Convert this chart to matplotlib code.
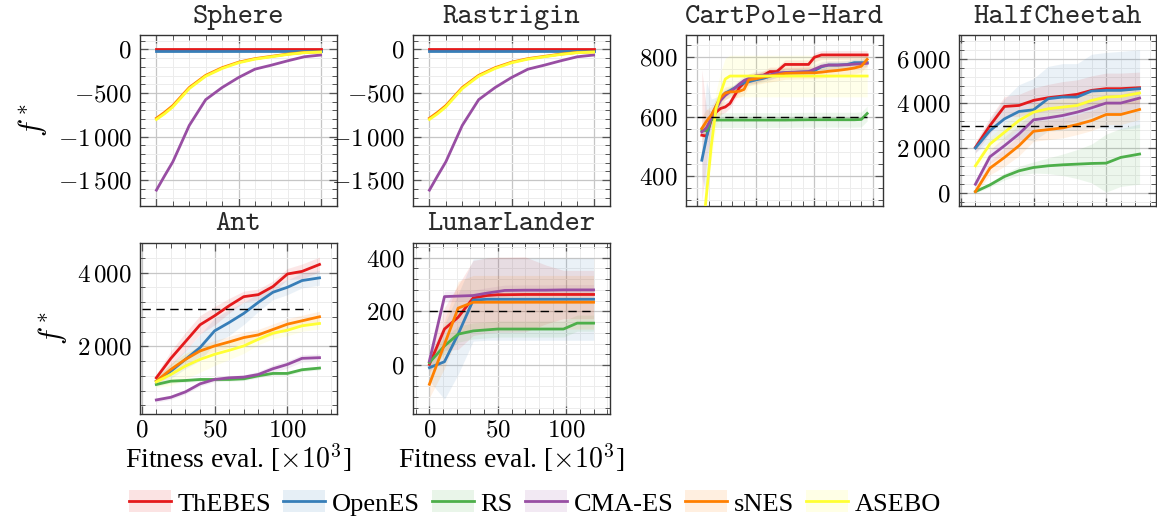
import os
import numpy as np
import matplotlib
matplotlib.use("Agg")
import matplotlib.pyplot as plt
from matplotlib.ticker import MultipleLocator, FuncFormatter, NullFormatter
from matplotlib.patches import Patch
from matplotlib.lines import Line2D
from matplotlib.legend_handler import HandlerTuple
from matplotlib.font_manager import FontProperties

plt.rcParams['mathtext.fontset'] = 'cm'
plt.rcParams['font.family'] = ['Liberation Serif', 'DejaVu Serif']

methods = ["ThEBES", "OpenES", "RS", "CMA-ES", "sNES", "ASEBO"]
colors = ["#e41a1c", "#377eb8", "#4daf4a", "#984ea3", "#ff7f00", "#ffff33"]

## Sphere / Rastrigin (look the same in the figure)
sphere_x = [0, 5, 10, 20, 30, 40, 50, 60, 70, 80, 90, 100]
sphere_mean = {
    "ThEBES": [4, 4, 4, 4, 4, 4, 4, 4, 4, 4, 4, 4],
    "OpenES": [-20, -20, -20, -20, -20, -20, -20, -20, -20, -20, -20, -20],
    "CMA-ES": [-1615, -1450, -1290, -873, -577, -438, -323, -227, -181, -131, -85, -65],
    "sNES": [-790, -722, -645, -438, -298, -210, -147, -106, -80, -54, -35, -28],
    "ASEBO": [-804, -738, -660, -450, -308, -219, -154, -112, -85, -58, -38, -31],
}
rastrigin_x = sphere_x
rastrigin_mean = sphere_mean

## CartPole-Hard
cart_x = [4, 8, 12, 16, 20, 24, 28, 32, 36, 40, 44, 50, 56, 62, 68, 75, 95, 100, 106, 112, 120, 128, 134, 140, 145]
cart_mean = {
    "ThEBES": [538, 535, 590, 615, 628, 633, 645, 672, 698, 714, 726, 728, 738, 752, 752, 776, 776, 800, 808, 808, 808, 808, 808, 808, 808],
    "OpenES": [454, 530, 600, 635, 665, 680, 688, 697, 708, 714, 718, 724, 729, 736, 745, 748, 751, 755, 768, 774, 774, 776, 782, 782, 782],
    "RS": [555, 553, 592, 589, 589, 589, 589, 589, 589, 589, 589, 589, 589, 589, 589, 589, 590, 590, 590, 590, 590, 590, 590, 591, 611],
    "CMA-ES": [549, 563, 595, 625, 655, 672, 684, 695, 710, 722, 729, 738, 740, 741, 747, 749, 752, 760, 770, 774, 774, 775, 777, 778, 780],
    "sNES": [561, 585, 605, 635, 665, 680, 684, 684, 686, 692, 724, 728, 733, 737, 741, 746, 748, 748, 750, 753, 756, 760, 764, 770, 793],
    "ASEBO": [180, 340, 500, 625, 680, 727, 737, 737, 737, 737, 737, 737, 737, 737, 737, 737, 737, 737, 737, 737, 737, 737, 737, 737, 737],
}
cart_std = {
    "ThEBES": [220, 90, 30, 25, 20, 18, 15, 15, 15, 15, 15, 15, 15, 15, 15, 15, 15, 15, 15, 15, 15, 15, 15, 15, 15],
    "OpenES": [60, 190, 60, 30, 15, 12, 12, 12, 12, 12, 12, 12, 12, 12, 12, 12, 12, 12, 12, 12, 12, 12, 12, 12, 12],
    "RS": [20, 25, 25, 25, 25, 25, 25, 25, 25, 25, 25, 25, 25, 25, 25, 25, 25, 25, 25, 25, 25, 25, 25, 25, 25],
    "CMA-ES": [15, 15, 15, 15, 15, 15, 15, 15, 15, 15, 15, 15, 15, 15, 15, 15, 15, 15, 15, 15, 15, 15, 15, 15, 15],
    "sNES": [40, 40, 30, 25, 20, 20, 20, 20, 20, 20, 20, 20, 20, 20, 20, 20, 20, 20, 20, 20, 20, 20, 20, 20, 20],
    "ASEBO": [20, 30, 50, 60, 70, 70, 70, 70, 70, 70, 70, 70, 70, 70, 70, 70, 70, 70, 70, 70, 70, 70, 70, 70, 70],
}

## HalfCheetah
cheetah_x = [10, 20, 30, 40, 50, 60, 70, 80, 90, 100, 110, 123]
cheetah_mean = {
    "ThEBES": [2030, 3008, 3865, 3910, 4136, 4256, 4331, 4407, 4587, 4662, 4662, 4707],
    "OpenES": [2000, 2782, 3309, 3640, 3715, 4211, 4286, 4286, 4557, 4587, 4587, 4662],
    "RS": [45, 346, 722, 978, 1128, 1203, 1248, 1278, 1308, 1323, 1579, 1730],
    "CMA-ES": [376, 1609, 2105, 2632, 3264, 3354, 3459, 3610, 3805, 4016, 4016, 4241],
    "sNES": [45, 1098, 1579, 2105, 2752, 2827, 2903, 3053, 3234, 3504, 3504, 3730],
    "ASEBO": [1203, 2180, 2707, 3234, 3610, 3760, 3835, 3910, 4136, 4286, 4316, 4467],
}
cheetah_std = {
    "ThEBES": [250, 350, 450, 500, 550, 600, 650, 650, 650, 700, 700, 700],
    "OpenES": [200, 500, 900, 1200, 1400, 1450, 1500, 1500, 1650, 1700, 1750, 1750],
    "RS": [60, 100, 150, 200, 250, 350, 480, 650, 870, 1300, 1300, 1350],
    "CMA-ES": [150, 300, 400, 400, 400, 400, 400, 400, 400, 400, 400, 400],
    "sNES": [100, 300, 400, 450, 450, 450, 450, 450, 450, 450, 450, 450],
    "ASEBO": [200, 300, 350, 350, 350, 350, 350, 350, 350, 350, 350, 350],
}

## Ant
ant_x = [10, 20, 30, 40, 50, 60, 70, 80, 90, 100, 110, 122]
ant_mean = {
    "ThEBES": [1145, 1673, 2127, 2582, 2827, 3100, 3345, 3400, 3618, 3960, 4030, 4218],
    "OpenES": [1055, 1327, 1645, 1964, 2418, 2645, 2891, 3191, 3464, 3600, 3782, 3855],
    "RS": [964, 1055, 1073, 1100, 1100, 1100, 1118, 1200, 1264, 1264, 1364, 1409],
    "CMA-ES": [545, 618, 764, 982, 1100, 1145, 1164, 1236, 1391, 1509, 1673, 1691],
    "sNES": [1055, 1373, 1645, 1873, 2009, 2118, 2236, 2309, 2455, 2600, 2691, 2800],
    "ASEBO": [1036, 1236, 1464, 1645, 1782, 1891, 2009, 2191, 2355, 2436, 2555, 2618],
}
ant_std = {
    "ThEBES": [100, 200, 250, 250, 250, 200, 150, 150, 150, 150, 200, 200],
    "OpenES": [100, 200, 250, 350, 350, 350, 300, 250, 200, 200, 200, 200],
    "RS": [50, 50, 50, 50, 50, 50, 50, 50, 50, 50, 50, 50],
    "CMA-ES": [60, 60, 60, 60, 60, 60, 60, 80, 100, 100, 100, 100],
    "sNES": [100, 150, 150, 150, 150, 150, 150, 150, 150, 150, 150, 150],
    "ASEBO": [150, 300, 350, 350, 300, 250, 200, 150, 150, 150, 150, 150],
}

## LunarLander
lunar_x = [0, 11, 21, 32, 42, 50, 55, 70, 85, 98, 108, 120]
lunar_mean = {
    "ThEBES": [2, 134, 178, 250, 259, 262, 262, 263, 263, 263, 263, 263],
    "OpenES": [-10, 12, 115, 242, 245, 245, 245, 245, 245, 245, 245, 245],
    "RS": [9, 71, 115, 127, 131, 134, 134, 134, 134, 134, 156, 156],
    "CMA-ES": [15, 255, 257, 259, 268, 274, 278, 279, 279, 280, 280, 280],
    "sNES": [-72, 77, 212, 234, 234, 234, 234, 234, 234, 234, 234, 234],
}
lunar_std = {
    "ThEBES": [30, 80, 120, 140, 140, 140, 140, 140, 110, 90, 90, 90],
    "OpenES": [50, 140, 150, 153, 153, 153, 153, 153, 153, 153, 153, 153],
    "RS": [30, 30, 30, 30, 30, 30, 30, 30, 30, 30, 30, 30],
    "CMA-ES": [20, 20, 20, 20, 20, 20, 20, 20, 20, 20, 20, 20],
    "sNES": [50, 90, 100, 100, 100, 100, 100, 100, 100, 100, 100, 100],
}

## thresholds (dashed lines)
cart_thr = ([0, 145], 600)
cheetah_thr = ([0, 115], 3000)
ant_thr = ([0, 115], 3000)
lunar_thr = ([0, 120], 200)

W, H = 1157, 519
fig = plt.figure(figsize=(W/100, H/100), dpi=100)

# computer modern typewriter for the titles (shipped with matplotlib)
tt_font = FontProperties(fname=os.path.join(matplotlib.get_data_path(), "fonts", "ttf", "cmtt10.ttf"), size=21)

def px_axes(left, top, w, h):
    return fig.add_axes([left/W, 1-(top+h)/H, w/W, h/H])

def tick_fmt(v, pos):
    v = int(round(v))
    s = f"{abs(v):,}".replace(",", r"\,")
    return "$" + ("-" if v < 0 else "") + s + "$"

def style(ax, xlim, ylim, xmaj, xmin, ymaj, ymin, xlabels):
    ax.set_xlim(*xlim)
    ax.set_ylim(*ylim)
    ax.xaxis.set_major_locator(MultipleLocator(xmaj))
    ax.xaxis.set_minor_locator(MultipleLocator(xmin))
    ax.yaxis.set_major_locator(MultipleLocator(ymaj))
    ax.yaxis.set_minor_locator(MultipleLocator(ymin))
    ax.yaxis.set_major_formatter(FuncFormatter(tick_fmt))
    if xlabels:
        ax.xaxis.set_major_formatter(FuncFormatter(tick_fmt))
    else:
        ax.xaxis.set_major_formatter(NullFormatter())
    ax.grid(which='major', color='#c6c6c6', lw=0.9)
    ax.grid(which='minor', color='#ececec', lw=0.7)
    ax.set_axisbelow(True)
    ax.tick_params(which='both', direction='in', top=True, right=True, color='#555555', labelsize=18)
    ax.tick_params(axis='y', pad=6)
    ax.tick_params(axis='x', pad=4)
    ax.tick_params(which='major', length=6, width=0.9)
    ax.tick_params(which='minor', length=3.5, width=0.7)
    for s in ax.spines.values():
        s.set_color('#333333')
        s.set_linewidth(1.0)

def draw(ax, x, mean, std=None):
    for m, c in zip(methods, colors):
        if m not in mean:
            continue
        y = np.array(mean[m], dtype=float)
        if std is not None:
            sd = np.array(std[m], dtype=float)
            ax.fill_between(x, y-sd, y+sd, color=c, alpha=0.1, lw=0)
        ax.plot(x, y, color=c, lw=2.0, solid_joinstyle='round', zorder=3)

def thr(ax, t):
    ax.plot(t[0], [t[1], t[1]], color='black', lw=1.0, ls=(0, (6, 4)), zorder=4)

def title(ax, s):
    ax.set_title(s, fontproperties=tt_font, pad=9, color='#2a2a2a')

ax0 = px_axes(140, 35, 197, 171)
draw(ax0, sphere_x, sphere_mean)
style(ax0, (-10, 110), (-1797, 165), 50, 10, 500, 100, False)
title(ax0, "Sphere")
ax0.set_ylabel(r"$f^*$", fontsize=22, labelpad=6)

ax1 = px_axes(413, 35, 197, 171)
draw(ax1, rastrigin_x, rastrigin_mean)
style(ax1, (-10, 110), (-1797, 165), 50, 10, 500, 100, False)
title(ax1, "Rastrigin")

ax2 = px_axes(686, 35, 197, 171)
draw(ax2, cart_x, cart_mean, cart_std)
thr(ax2, cart_thr)
style(ax2, (-9.5, 158.5), (300, 875), 50, 10, 200, 40, False)
title(ax2, "CartPole-Hard")

ax3 = px_axes(959, 35, 197, 171)
draw(ax3, cheetah_x, cheetah_mean, cheetah_std)
thr(ax3, cheetah_thr)
style(ax3, (-1.3, 134.3), (-600, 7070), 50, 10, 2000, 400, False)
title(ax3, "HalfCheetah")

ax4 = px_axes(140, 243, 197, 171)
draw(ax4, ant_x, ant_mean, ant_std)
thr(ax4, ant_thr)
style(ax4, (-1.2, 134), (164, 4800), 50, 10, 2000, 400, True)
title(ax4, "Ant")
ax4.set_ylabel(r"$f^*$", fontsize=22, labelpad=6)
ax4.set_xlabel(r"Fitness eval. [$\times10^3$]", fontsize=20, labelpad=0)

ax5 = px_axes(413, 243, 197, 171)
draw(ax5, lunar_x, lunar_mean, lunar_std)
thr(ax5, lunar_thr)
style(ax5, (-12, 132), (-183, 455), 50, 10, 200, 40, True)
title(ax5, "LunarLander")
ax5.set_xlabel(r"Fitness eval. [$\times10^3$]", fontsize=20, labelpad=0)

handles = [(Patch(facecolor=c, alpha=0.12, lw=0), Line2D([], [], color=c, lw=2.0)) for c in colors]
fig.legend(handles, methods, loc='center', bbox_to_anchor=(535/W, 1-503/H), ncol=6,
           frameon=False, fontsize=19, handlelength=1.6, handleheight=0.9,
           handletextpad=0.25, columnspacing=0.45,
           handler_map={tuple: HandlerTuple(ndivide=1, pad=0)})

fig.savefig("out.png", dpi=100)
